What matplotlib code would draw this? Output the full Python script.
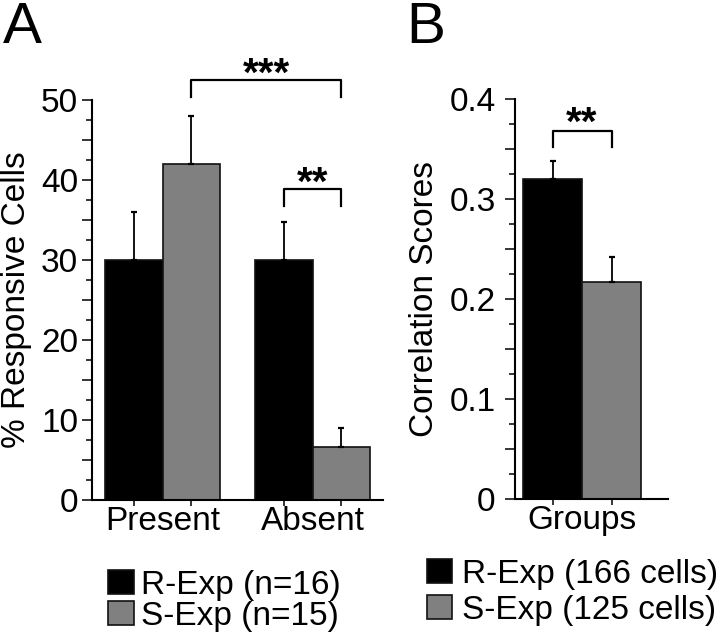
import matplotlib
matplotlib.use("Agg")
import matplotlib.pyplot as plt
from matplotlib.ticker import MultipleLocator, FuncFormatter

plt.rcParams['font.family'] = ['Liberation Sans', 'DejaVu Sans']

# panel A: % responsive cells
categories_a = ['Present', 'Absent']
r_exp_pct = [30, 30]
r_exp_err = [6, 4.75]
s_exp_pct = [42, 6.6]
s_exp_err = [6, 2.4]
legend_a = ['R-Exp (n=16)', 'S-Exp (n=15)']

# panel B: correlation scores
category_b = 'Groups'
corr_vals = [0.32, 0.217]
corr_errs = [0.018, 0.025]
legend_b = ['R-Exp (166 cells)', 'S-Exp (125 cells)']

BLACK = '#000000'
GRAY = '#808080'
FS = 24

W, H = 720, 634
fig = plt.figure(figsize=(W / 100, H / 100), dpi=100)


def px_axes(left, top, right, bottom):
    return fig.add_axes([left / W, 1 - bottom / H, (right - left) / W, (bottom - top) / H])


def style_axes(ax, major, minor, pad):
    for s in ['top', 'right']:
        ax.spines[s].set_visible(False)
    for s in ['left', 'bottom']:
        ax.spines[s].set_linewidth(1.5)
    ax.yaxis.set_major_locator(MultipleLocator(major))
    ax.yaxis.set_minor_locator(MultipleLocator(minor))
    ax.tick_params(axis='y', which='major', length=7, width=1.1, labelsize=FS, pad=pad)
    ax.tick_params(axis='y', which='minor', length=4, width=1.1)
    ax.tick_params(axis='x', which='major', length=0, labelsize=FS, pad=4)
    ax.tick_params(axis='x', which='minor', length=4.5, width=1.1)


def bracket(ax, x0, x1, y, leg, text, ty):
    ax.plot([x0, x0, x1, x1], [y - leg, y, y, y - leg], color='black', lw=1.6, clip_on=False)
    ax.text((x0 + x1) / 2, ty, text, ha='center', va='center', fontsize=29, fontweight='bold')


err_kw = dict(elinewidth=1.3, capthick=1.6, capsize=2.5, ecolor='black')

# ---- Panel A
w = 0.383
axA = px_axes(92, 100, 383, 500)
pos = [0, 1]
xr = [p - w / 2 for p in pos]
xs = [p + w / 2 for p in pos]
bars_r = axA.bar(xr, r_exp_pct, w, color=BLACK, edgecolor='#111111', lw=1.2,
                 yerr=[[0] * 2, r_exp_err], error_kw=err_kw, label=legend_a[0], zorder=2)
bars_s = axA.bar(xs, s_exp_pct, w, color=GRAY, edgecolor='#111111', lw=1.2,
                 yerr=[[0] * 2, s_exp_err], error_kw=err_kw, label=legend_a[1], zorder=2)
axA.set_xlim(-0.47, 1.47)
axA.set_ylim(0, 50)
style_axes(axA, 5, 2.5, 3)
axA.yaxis.set_major_formatter(FuncFormatter(lambda v, p: f'{v:.0f}' if round(v) % 10 == 0 else ''))
axA.set_xticks(pos, categories_a)
axA.set_xticks(xr + xs, minor=True)
axA.set_ylabel('% Responsive Cells', fontsize=FS)
axA.yaxis.set_label_coords(-0.206, 0.5)

bracket(axA, xs[0], xs[1], 52.5, 2.1, '***', 53.1)
bracket(axA, xr[1], xs[1], 38.9, 2.15, '**', 39.5)

axA.legend(handles=[bars_r, bars_s], loc='upper left', bbox_to_anchor=(108 / W, 1 - 570 / H),
           bbox_transform=fig.transFigure, frameon=False, fontsize=FS, borderpad=0,
           borderaxespad=0, handlelength=0.78, handleheight=0.72, handletextpad=0.2,
           labelspacing=0.0)

# ---- Panel B
axB = px_axes(515, 99, 668, 499)
xb = [-w / 2, w / 2]
bars_b = axB.bar(xb, corr_vals, w, color=[BLACK, GRAY], edgecolor='#111111', lw=1.2,
                 yerr=[[0, 0], corr_errs], error_kw=err_kw, zorder=2)
axB.set_xlim(-0.435, 0.558)
axB.set_ylim(0, 0.4)
style_axes(axB, 0.05, 0.025, 7)
axB.yaxis.set_major_formatter(FuncFormatter(
    lambda v, p: ('0' if abs(v) < 1e-9 else f'{v:.1f}') if abs(round(v * 20)) % 2 == 0 else ''))
axB.set_xticks([0], [category_b])
axB.set_xticks(xb, minor=True)
axB.set_ylabel('Correlation Scores', fontsize=FS)
axB.yaxis.set_label_coords(-0.49, 0.5)

bracket(axB, xb[0], xb[1], 0.368, 0.016, '**', 0.375)

axB.legend(handles=list(bars_b), labels=legend_b, loc='upper left',
           bbox_to_anchor=(427 / W, 1 - 559 / H), bbox_transform=fig.transFigure,
           frameon=False, fontsize=FS, borderpad=0, borderaxespad=0, handlelength=0.75,
           handleheight=0.72, handletextpad=0.3, labelspacing=0.15)

fig.text(3 / W, 1 - 43 / H, 'A', fontsize=42, va='baseline', ha='left')
fig.text(406 / W, 1 - 43 / H, 'B', fontsize=42, va='baseline', ha='left')

fig.savefig('out.png', dpi=100)
